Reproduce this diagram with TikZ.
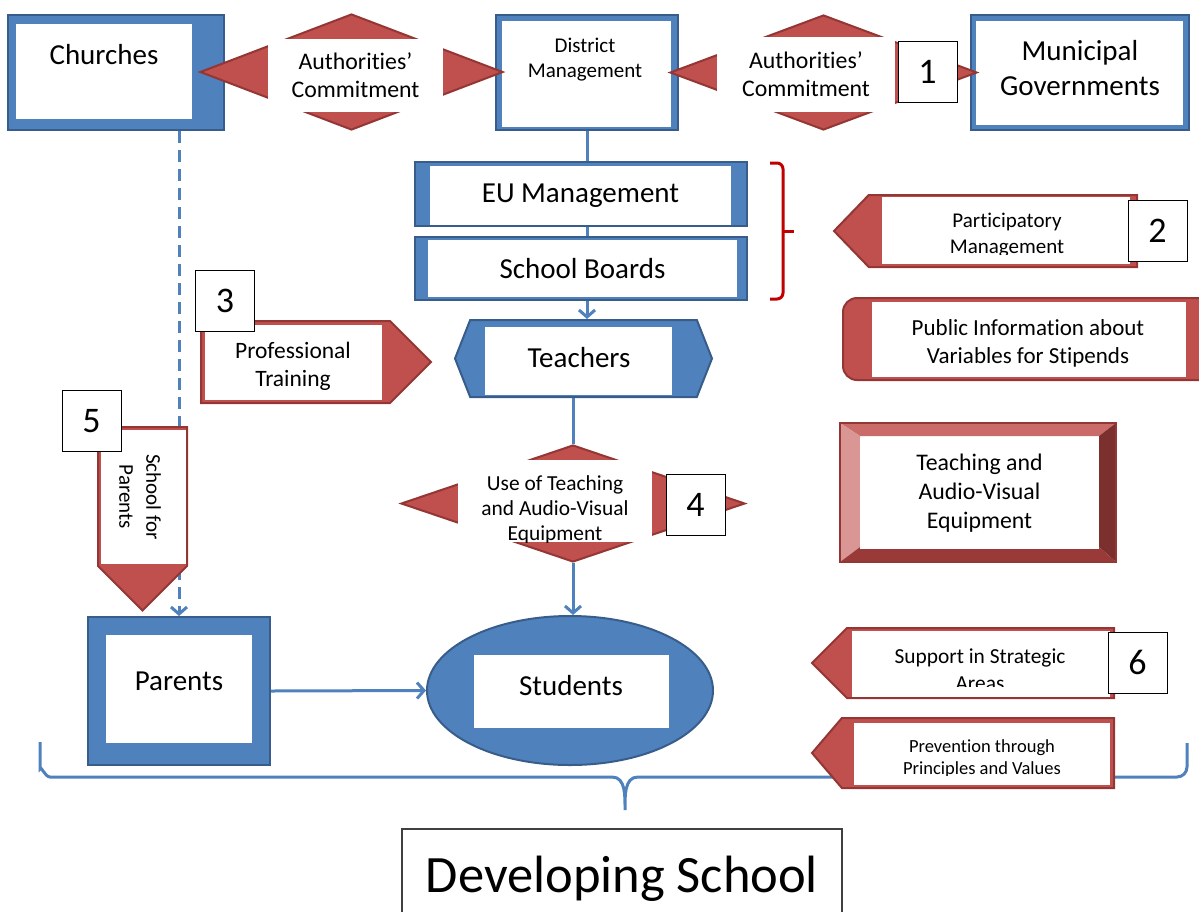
\documentclass[tikz,border=0pt]{standalone}
\usepackage{fontspec}
\setmainfont{Carlito}[Ligatures={TeX,NoCommon}]
\usepackage{tikz}
\usetikzlibrary{shapes.geometric,shapes.symbols,arrows.meta}
\definecolor{bluefill}{HTML}{4F81BD}
\definecolor{blueedge}{HTML}{385D8A}
\definecolor{redfill}{HTML}{C0504D}
\definecolor{rededge}{HTML}{943634}
\definecolor{bracketred}{HTML}{C00000}
\definecolor{bevtop}{HTML}{CB6B69}
\definecolor{bevleft}{HTML}{D99694}
\definecolor{bevright}{HTML}{7C302E}
\definecolor{bevbottom}{HTML}{9A3A38}
\newcommand{\fsize}[2]{\fontsize{#1}{#2}\selectfont}
\tikzstyle{arrow} = [-{Straight Barb[length=7,width=16]}]
\tikzstyle{link} = [draw=bluefill, line width=3]
\tikzstyle{bluebox} = [draw=blueedge, fill=bluefill, line width=2]
\tikzstyle{inset} = [fill=white, align=center]
\tikzstyle{redbox} = [draw=rededge, fill=redfill, line width=2]
\tikzstyle{numbox} = [draw=black, fill=white, line width=1, minimum width=59, minimum height=61, font=\fsize{36}{40}]

\begin{document}
\begin{tikzpicture}[x=1pt, y=-1pt, every node/.style={inner sep=0}]
	\useasboundingbox (0,0) rectangle (1199,911);

	% top row
	\node (churches) [bluebox, minimum width=216, minimum height=115] at (116,72.5) {};
	\node (churchesin) [inset, minimum width=176, minimum height=95] at (104,71.5) {};
	\node (churchestxt) [font=\fsize{29}{35}] at (104,55) {Churches};

	\node (district) [bluebox, minimum width=182, minimum height=115] at (587,72.5) {};
	\node (districtin) [inset, minimum width=169, minimum height=106] at (586.5,74) {};
	\node (districttxt) [font=\fsize{21}{25}, align=center] at (585,59.5) {District\\Management};

	\node (municipal) [bluebox, minimum width=218, minimum height=115] at (1080,72.5) {};
	\node (municipalin) [inset, minimum width=207, minimum height=104] at (1079.5,73) {};
	\node (municipaltxt) [font=\fsize{29}{35}, align=center] at (1080,68) {Municipal\\Governments};

	\node (commitleft) [diamond, redbox, minimum width=303, minimum height=116] at (351.5,72) {};
	\node (commitleftin) [inset, minimum width=175, minimum height=73, font=\fsize{23.8}{28}] at (355.5,75) {Authorities'\\Commitment};
	\node (commitright) [diamond, redbox, minimum width=307, minimum height=115] at (823.5,72.5) {};
	\node (commitrightin) [inset, minimum width=178, minimum height=75, font=\fsize{23.8}{28}] at (806,74) {Authorities'\\Commitment};
	\node (num1) [numbox] at (927.5,71.5) {1};

	% management stack
	\node (eu) [bluebox, minimum width=332, minimum height=64] at (581,194) {};
	\node (euin) [inset, minimum width=301, minimum height=59, font=\fsize{29}{35}] at (580.5,195.5) {EU Management};
	\node (boards) [bluebox, minimum width=332, minimum height=63] at (581,268.5) {};
	\node (boardsin) [inset, minimum width=309, minimum height=57, font=\fsize{29}{35}] at (582.5,268.5) {School Boards};

	\node (teachers) [signal, signal to=west and east, signal pointer angle=137, bluebox, minimum width=257, minimum height=77] at (583.5,358.5) {};
	\node (teachersin) [inset, minimum width=187, minimum height=68] at (578.5,361) {};
	\node (teacherstxt) [font=\fsize{29}{35}] at (579,358) {Teachers};

	\draw [link] (district.south) -- (district.south |- eu.north);
	\draw [link] (district.south |- eu.south) -- (district.south |- boards.north);
	\draw [link, arrow] (district.south |- boards.south) -- (district.south |- teachers.north);

	\draw [bracketred, line width=3] (770,163) -- (777,163) to[out=0,in=90] (783,169) -- (783,293) to[out=-90,in=0] (777,299) -- (770,299);
	\draw [bracketred, line width=3] (783,231) -- (794,231);

	% middle
	\node (parents) [bluebox, minimum width=182, minimum height=148] at (179,691) {};
	\node (parentsin) [inset, minimum width=146, minimum height=108] at (179,689) {};
	\node (parentstxt) [font=\fsize{29}{35}] at (179,681) {Parents};

	\node (students) [ellipse, bluebox, minimum width=286, minimum height=149] at (570,690.5) {};
	\node (studentsin) [inset, minimum width=195, minimum height=73] at (571.5,691.5) {};
	\node (studentstxt) [font=\fsize{29}{35}] at (571,686) {Students};

	\node (equipuse) [diamond, redbox, minimum width=344, minimum height=117] at (573,503.5) {};

	\draw [link] (equipuse.north |- teachers.south) -- (equipuse.north);
	\draw [link, arrow] (equipuse.south) -- (equipuse.south |- students.north);
	\draw [link, arrow] (parents.east) -- (students.west);
	\draw [link, arrow, dash pattern=on 12 off 7] (parents.north |- churches.south) -- (parents.north);

	\node (equipusein) [inset, minimum width=194, minimum height=82] at (555,501) {};
	\begin{scope}
		\clip (458,460) rectangle (652,542);
		\node (equipusetxt) [font=\fsize{21.4}{25}, align=center] at (555,510) {Use of Teaching\\and Audio-Visual\\Equipment};
	\end{scope}
	\node (num4) [numbox] at (695.5,505) {4};

	\node (training) [signal, signal to=east, signal pointer angle=90, redbox, minimum width=230, minimum height=82, anchor=west] at (200,362) {};
	\node (trainingin) [inset, minimum width=177, minimum height=75] at (293.5,362.5) {};
	\node (trainingtxt) [font=\fsize{23.5}{28}, align=center] at (293,366) {Professional\\Training};
	\node (num3) [numbox] at (225,301) {3};

	\node (parentschool) [signal, signal to=south, signal pointer angle=90, redbox, minimum width=89, minimum height=139, anchor=north] at (142.5,426) {};
	\node (parentschoolin) [inset, minimum width=85, minimum height=134] at (143.5,497) {};
	\node (parentschooltxt) [rotate=-90, font=\fsize{21}{27}, align=center] at (140,497) {School for\\Parents};
	\node (num5) [numbox] at (91.5,421) {5};

	% right column
	\node (participation) [signal, signal to=west, signal pointer angle=92, redbox, minimum width=303, minimum height=72, anchor=east] at (1138,231) {};
	\node (participationin) [inset, minimum width=248, minimum height=67] at (1006,230.5) {};
	\begin{scope}
		\clip (882,197) rectangle (1130,254);
		\node (participationtxt) [font=\fsize{21}{26}, align=center] at (1007,235) {Participatory\\Management};
	\end{scope}
	\node (num2) [numbox] at (1157.5,231) {2};

	\filldraw [redbox, rounded corners=14] (1199,298) -- (843,298) -- (843,380) -- (1199,380);
	\node (pubinfo) [inset, minimum width=314, minimum height=75] at (1029,339.5) {};
	\node (pubinfotxt) [font=\fsize{23}{28}, align=center] at (1028,343) {Public Information about\\Variables for Stipends};

	\fill [bevtop] (840,423) -- (1116,423) -- (1099,436) -- (860,436) -- cycle;
	\fill [bevleft] (840,423) -- (860,436) -- (860,547) -- (840,562) -- cycle;
	\fill [bevright] (1116,423) -- (1116,562) -- (1099,547) -- (1099,436) -- cycle;
	\fill [bevbottom] (840,562) -- (1116,562) -- (1099,547) -- (860,547) -- cycle;
	\draw [rededge, line width=1.5] (840,423) rectangle (1116,562);
	\node (avequip) [inset, minimum width=239, minimum height=111, font=\fsize{23.8}{29}] at (979.5,493) {Teaching and\\Audio-Visual\\Equipment};

	\node (support) [signal, signal to=west, signal pointer angle=90, redbox, minimum width=302, minimum height=70, anchor=east] at (1115,663) {};
	\node (supportin) [inset, minimum width=258, minimum height=66] at (981,664) {};
	\begin{scope}
		\clip (852,631) rectangle (1110,686);
		\node (supporttxt) [font=\fsize{21.4}{27}, align=center] at (980,669.5) {Support in Strategic\\Areas};
	\end{scope}
	\node (num6) [numbox] at (1137.5,662.5) {6};

	% bottom
	\draw [link] (40,742) -- (40,769) to[out=90,in=180] (50,777) -- (612,777) to[out=0,in=90] (625,810) to[out=90,in=180] (638,777) -- (1177,777) to[out=0,in=-90] (1187,767) -- (1187,743);

	\node (prevention) [signal, signal to=west, signal pointer angle=99, redbox, minimum width=302, minimum height=70, anchor=east] at (1115,753) {};
	\node (preventionin) [inset, minimum width=256, minimum height=62] at (982,754) {};
	\begin{scope}
		\clip (854,723) rectangle (1110,775);
		\node (preventiontxt) [font=\fsize{18.5}{22}, align=center] at (982,759) {Prevention through\\Principles and Values};
	\end{scope}

	\node (developing) [draw=black!75, line width=1.5, minimum width=440, minimum height=100, font=\fsize{52.5}{60}] at (622,879) {Developing School};
\end{tikzpicture}
\end{document}
